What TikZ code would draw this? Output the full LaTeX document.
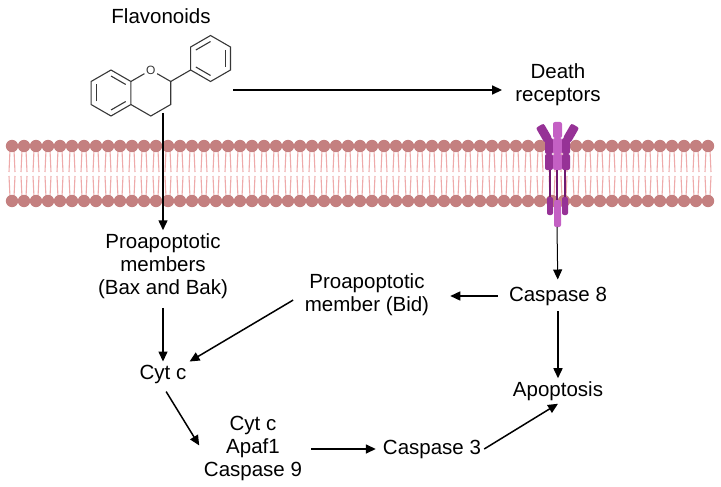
\documentclass[tikz,border=0pt]{standalone}
\usepackage{fontspec}
\setmainfont{Liberation Sans}
\usetikzlibrary{arrows.meta,calc}

\definecolor{headcol}{RGB}{196,128,128}
\definecolor{tailcol}{RGB}{238,170,170}
\definecolor{rcpdark}{RGB}{112,24,112}
\definecolor{rcpmid}{RGB}{150,50,150}
\definecolor{rcplight}{RGB}{196,96,196}
\definecolor{bondcol}{RGB}{55,55,55}

\tikzset{
  lbl/.style={align=center, inner sep=3pt, font=\fontsize{20.5}{23}\selectfont},
  arr/.style={-{Triangle[length=10pt,width=9pt]}, line width=1.5pt},
  bond/.style={line width=1.1pt, draw=bondcol},
  rcp/.style={rounded corners=2pt},
}

\begin{document}
\begin{tikzpicture}[x=1pt,y=-1pt]
\useasboundingbox (0,0) rectangle (721,487);

% membrane
\foreach \i in {0,...,58}{
  \pgfmathsetmacro{\hx}{12+12*\i}
  \draw[tailcol, line width=1.1pt] (\hx-2,150) -- (\hx-3,172) (\hx+2,150) -- (\hx+3,172)
    (\hx-2,197) -- (\hx-3,176) (\hx+2,197) -- (\hx+3,176);
  \fill[headcol] (\hx,146) circle (6.2) (\hx,201) circle (6.2);
}

% death receptor
\fill[rcpmid, rcp, rotate around={30:(544,133)}] (539.5,124.5) rectangle (548.5,141.5);
\fill[rcpmid, rcp, rotate around={-30:(571,133)}] (566.5,124.5) rectangle (575.5,141.5);
\fill[rcplight, rcp] (553,122) rectangle (562,138);
\foreach \yy in {138,154}{
  \fill[rcpmid, rcp] (545,\yy) rectangle (553,\yy+16);
  \fill[rcplight, rcp] (553,\yy) rectangle (562,\yy+16);
  \fill[rcpmid, rcp] (562,\yy) rectangle (570,\yy+16);
}
\draw[rcpdark, line width=2pt] (550,170) -- (550,200) (557,170) -- (557,200) (565,170) -- (565,200);
\fill[rcpmid, rcp] (547,197) rectangle (553,215);
\fill[rcpmid, rcp] (562,197) rectangle (568,215);
\fill[rcplight, rcp] (554,200) rectangle (561,227);
\coordinate (rcpt) at (557,227);

% flavonoid skeleton
\coordinate (bz) at (111,93);
\coordinate (py) at ($(bz)+(0:39.8pt)$);
\coordinate (ph) at ($(py)+(30:69pt)$);
\draw[bond] ($(bz)+(90:23pt)$) -- ($(bz)+(30:23pt)$) -- ($(bz)+(-30:23pt)$) -- ($(bz)+(-90:23pt)$)
  -- ($(bz)+(-150:23pt)$) -- ($(bz)+(150:23pt)$) -- cycle;
\draw[bond] ($(ph)+(90:23pt)$) -- ($(ph)+(30:23pt)$) -- ($(ph)+(-30:23pt)$) -- ($(ph)+(-90:23pt)$)
  -- ($(ph)+(-150:23pt)$) -- ($(ph)+(150:23pt)$) -- cycle;
\node[inner sep=1.5pt, text=bondcol, font=\fontsize{12}{12}\selectfont] (oxy) at ($(py)+(90:23pt)$) {O};
\draw[bond] (oxy) -- ($(py)+(30:23pt)$) coordinate (c2) -- ($(py)+(-30:23pt)$)
  -- ($(py)+(-90:23pt)$) -- ($(py)+(-150:23pt)$);
\draw[bond] ($(py)+(150:23pt)$) -- (oxy);
\draw[bond] (c2) -- ($(ph)+(210:23pt)$);
\foreach \c/\a/\b in {bz/90/30, bz/-30/-90, bz/210/150, ph/150/90, ph/30/-30, ph/-90/-150}
  \draw[bond] ($(\c)+(\a:17pt)$) -- ($(\c)+(\b:17pt)$);
\coordinate (molS) at (163,113);
\coordinate (molE) at (233,90);

% labels
\node[lbl] (flav) at (161,16) {Flavonoids};
\node[lbl] (death) at (558,85) {Death\\receptors};
\node[lbl] (bax) at (163,266) {Proapoptotic\\members\\(Bax and Bak)};
\node[lbl] (bid) at (367,295) {Proapoptotic\\member (Bid)};
\node[lbl] (casp8) at (558,296) {Caspase 8};
\node[lbl] (cytc) at (163,374) {Cyt c};
\node[lbl] (apop) at (558,391) {Apoptosis};
\node[lbl] (cplx) at (253,448) {Cyt c\\Apaf1\\Caspase 9};
\node[lbl] (casp3) at (432,449) {Caspase 3};

% arrows
\draw[arr] (molS) -- (bax);
\draw[arr, shorten >=10pt] (molE) -- (molE -| death.west);
\draw[arr, line width=1pt, shorten >=4pt] (rcpt) -- (casp8);
\draw[arr, shorten <=8pt, shorten >=18pt] (casp8.west) -- (casp8.west -| bid.east);
\draw[arr, shorten <=6pt] (bax) -- (cytc);
\draw[arr, shorten <=10pt] (bid.west) -- (cytc.north east);
\draw[arr, shorten <=6pt, shorten >=3pt] (cytc.south) -- (cplx.west);
\draw[arr, shorten <=6pt, shorten >=4pt] (cplx.east |- casp3.west) -- (casp3.west);
\draw[arr] (casp3.east) -- (apop.south);
\draw[arr, shorten <=3pt] (casp8) -- (apop);
\end{tikzpicture}
\end{document}
